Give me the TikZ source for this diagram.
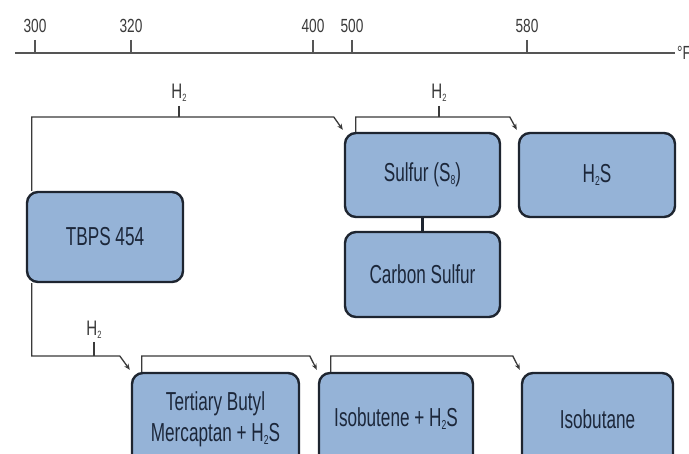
\documentclass[tikz,border=0pt]{standalone}
\usepackage{fontspec}
\usepackage{graphicx}
\setmainfont{Liberation Sans}[FakeStretch=0.66]
\newfontfamily\labfont{Liberation Sans}[FakeStretch=0.72]
\usetikzlibrary{arrows.meta}
\definecolor{boxfill}{HTML}{95B3D7}
\definecolor{boxline}{HTML}{1E2530}
\definecolor{txt}{HTML}{1C273A}
\definecolor{lin}{HTML}{3A3A3A}
\definecolor{axis}{HTML}{555555}
\newcommand\lsub[1]{\raisebox{-0.12em}{\scalebox{0.5}{#1}}}
\tikzset{
  proc/.style={draw=boxline, line width=2.4pt, fill=boxfill, rounded corners=11pt,
    text=txt, font=\fontsize{26}{31}\selectfont, align=center, inner sep=0pt},
  conn/.style={draw=lin, line width=1.3pt},
  axisline/.style={draw=axis, line width=1.3pt},
  arr/.style={conn, -{Stealth[length=6pt,width=5pt]}},
  lab/.style={text=lin, font=\labfont\fontsize{19}{20}\selectfont, inner sep=0pt},
  hlab/.style={text=lin, font=\labfont\fontsize{21}{22}\selectfont, inner sep=0pt},
}
\begin{document}
\begin{tikzpicture}[x=1pt,y=-1pt]
\useasboundingbox (0,0) rectangle (689,454);
\clip (0,0) rectangle (689,454);
\fill[white] (0,0) rectangle (689,454);

% temperature axis
\coordinate (ax0) at (15,53);
\coordinate (ax1) at (675,53);
\draw[axisline] (ax0) -- (ax1);
\node[lab, anchor=west] (unit) at (677,53) {°F};
\foreach \nm/\xx in {300/35, 320/131, 400/313, 500/352, 580/527}{
  \node[lab] (t\nm) at (\xx,26) {\nm};
  \draw[axisline] ([yshift=-14pt]t\nm.center) -- (t\nm.center |- ax0);
}

% level coordinates
\coordinate (top) at (0,117);
\coordinate (bot) at (0,356);

% boxes
\node[proc, minimum width=156pt, minimum height=90pt] (tbps) at (105,237) {TBPS 454};
\node[proc, minimum width=155pt, minimum height=84pt] (sulfur) at (422.5,175) {Sulfur (S\lsub{8})};
\node[proc, minimum width=156pt, minimum height=84pt] (h2s) at (597,175) {H\lsub{2}S};
\node[proc, minimum width=155pt, minimum height=85pt] (carbon) at (422.5,274.5) {Carbon Sulfur};
\node[proc, minimum width=167pt, minimum height=92pt] (tbm) at (215.5,419) {Tertiary Butyl\\Mercaptan + H\lsub{2}S};
\node[proc, minimum width=154pt, minimum height=92pt] (isoe) at (396,419) {Isobutene + H\lsub{2}S};
\node[proc, minimum width=151pt, minimum height=92pt] (isoa) at (597.5,419) {Isobutane};

% H2 labels
\node[hlab] (h2a) at (179,93) {H\lsub{2}};
\node[hlab] (h2b) at (439,93) {H\lsub{2}};
\node[hlab] (h2c) at (94,330) {H\lsub{2}};
\draw[conn] (h2a.center |- 0,106) -- (h2a.center |- top);
\draw[conn] (h2b.center |- 0,106) -- (h2b.center |- top);
\draw[conn] (h2c.center |- 0,342) -- (h2c.center |- bot);

% connectors
\draw[arr] ([xshift=6pt]tbps.north west) |- ([xshift=-10pt]sulfur.north west |- top)
  -- ([shift={(-1pt,2pt)}]sulfur.north west);
\draw[arr] ([xshift=12pt]sulfur.north west) |- ([xshift=-8pt]h2s.north west |- top)
  -- ([shift={(-1pt,2pt)}]h2s.north west);
\draw[line width=2.4pt, boxline] (sulfur.south) -- (carbon.north);
\draw[arr] ([xshift=6pt]tbps.south west) |- ([xshift=-11pt]tbm.north west |- bot)
  -- ([shift={(-1pt,2pt)}]tbm.north west);
\draw[arr] ([xshift=11pt]tbm.north west) |- ([xshift=-8pt]isoe.north west |- bot)
  -- ([shift={(-1pt,2pt)}]isoe.north west);
\draw[arr] ([xshift=13pt]isoe.north west) |- ([xshift=-8pt]isoa.north west |- bot)
  -- ([shift={(-1pt,2pt)}]isoa.north west);
\end{tikzpicture}
\end{document}
